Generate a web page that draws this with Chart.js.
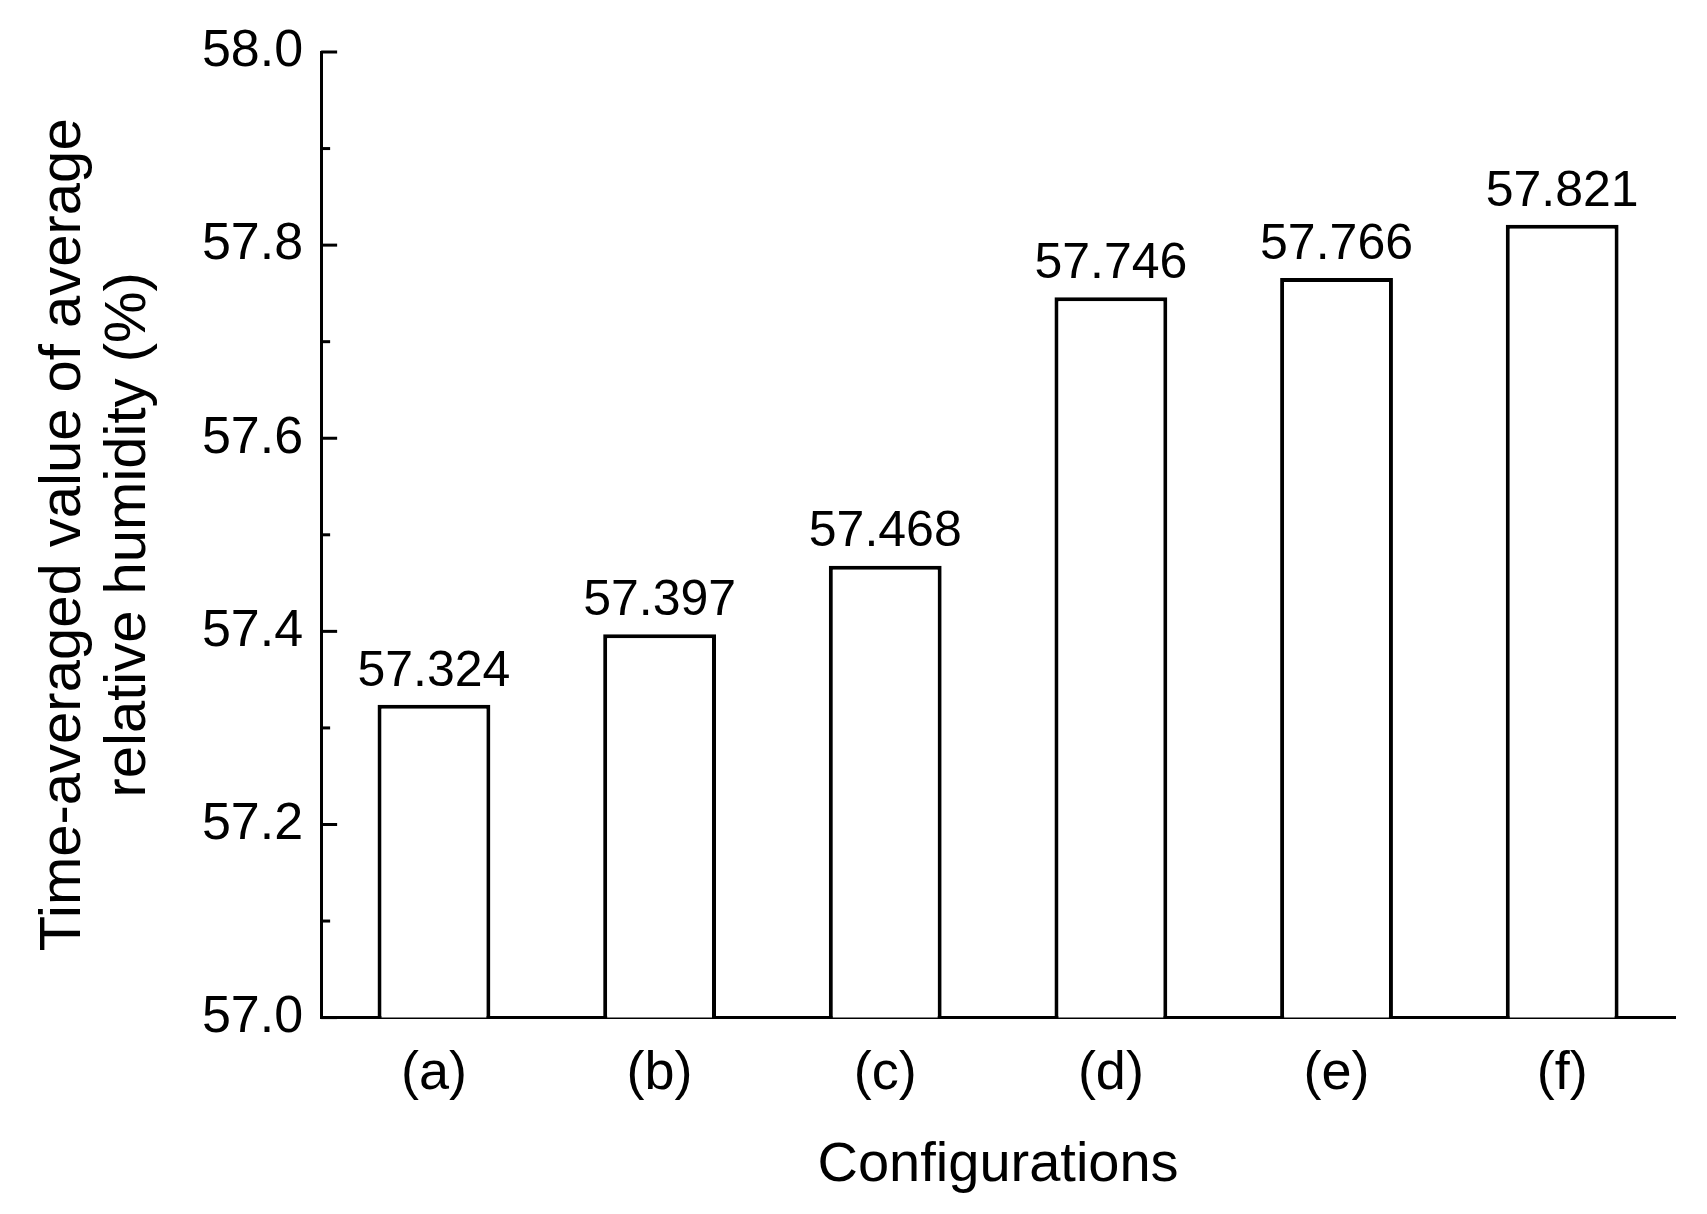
<!DOCTYPE html>
<html>
<head>
<meta charset="utf-8">
<script src="https://cdn.jsdelivr.net/npm/chart.js@4/dist/chart.umd.min.js"></script>
<style>
  html, body { margin: 0; padding: 0; background: #fff; }
  #wrap { width: 1707px; height: 1214px; }
</style>
</head>
<body>
<div id="wrap"><canvas id="chart" width="1707" height="1214"></canvas></div>
<script>
var categories = ['(a)', '(b)', '(c)', '(d)', '(e)', '(f)'];
var humidity = [57.324, 57.397, 57.468, 57.746, 57.766, 57.821];
var yTitle = ['Time-averaged value of average', 'relative humidity (%)'];
var xTitle = 'Configurations';

var FONT = '"Liberation Sans", Arial, sans-serif';

// ticks drawn inward from the y axis, long at labelled values, short between
var insideTicks = {
    id: 'insideTicks',
    afterDraw: function(chart) {
        var ctx = chart.ctx, y = chart.scales.y, area = chart.chartArea;
        ctx.save();
        ctx.strokeStyle = '#000';
        ctx.lineWidth = 3;
        y.ticks.forEach(function(t, i) {
            var py = y.getPixelForValue(t.value);
            var len = (i % 2 === 0) ? 16 : 9;
            ctx.beginPath();
            ctx.moveTo(area.left, py);
            ctx.lineTo(area.left + len, py);
            ctx.stroke();
        });
        ctx.restore();
    }
};

var valueLabels = {
    id: 'valueLabels',
    afterDatasetsDraw: function(chart) {
        var ctx = chart.ctx;
        var meta = chart.getDatasetMeta(0);
        ctx.save();
        ctx.font = '50px ' + FONT;
        ctx.fillStyle = '#000';
        ctx.textAlign = 'center';
        ctx.textBaseline = 'bottom';
        meta.data.forEach(function(bar, i) {
            ctx.fillText(humidity[i].toFixed(3), bar.x, bar.y - 8);
        });
        ctx.restore();
    }
};

new Chart(document.getElementById('chart'), {
    type: 'bar',
    data: {
        labels: categories,
        datasets: [{
            data: humidity,
            backgroundColor: '#fff',
            borderColor: '#000',
            borderWidth: 4,
            barPercentage: 0.5,
            categoryPercentage: 1.0
        }]
    },
    options: {
        responsive: false,
        animation: false,
        layout: { padding: { top: 52, right: 32, left: 28, bottom: 14 } },
        plugins: { legend: { display: false }, tooltip: { enabled: false } },
        scales: {
            x: {
                grid: { display: false, drawTicks: false },
                border: { color: '#000', width: 3 },
                ticks: { color: '#000', font: { size: 54, family: FONT }, padding: 24 },
                title: { display: true, text: xTitle, color: '#000', font: { size: 56, family: FONT, lineHeight: 1.1 }, padding: { top: 4 } }
            },
            y: {
                min: 57.0,
                max: 58.0,
                grid: { display: false, drawTicks: false },
                border: { color: '#000', width: 3 },
                ticks: {
                    stepSize: 0.1,
                    color: '#000',
                    padding: 18,
                    font: { size: 52, family: FONT },
                    callback: function(v, i) { return i % 2 === 0 ? v.toFixed(1) : ''; }
                },
                title: { display: true, text: yTitle, color: '#000', font: { size: 58, family: FONT, lineHeight: 1.12 }, padding: { bottom: 22 } }
            }
        }
    },
    plugins: [insideTicks, valueLabels]
});
</script>
</body>
</html>
